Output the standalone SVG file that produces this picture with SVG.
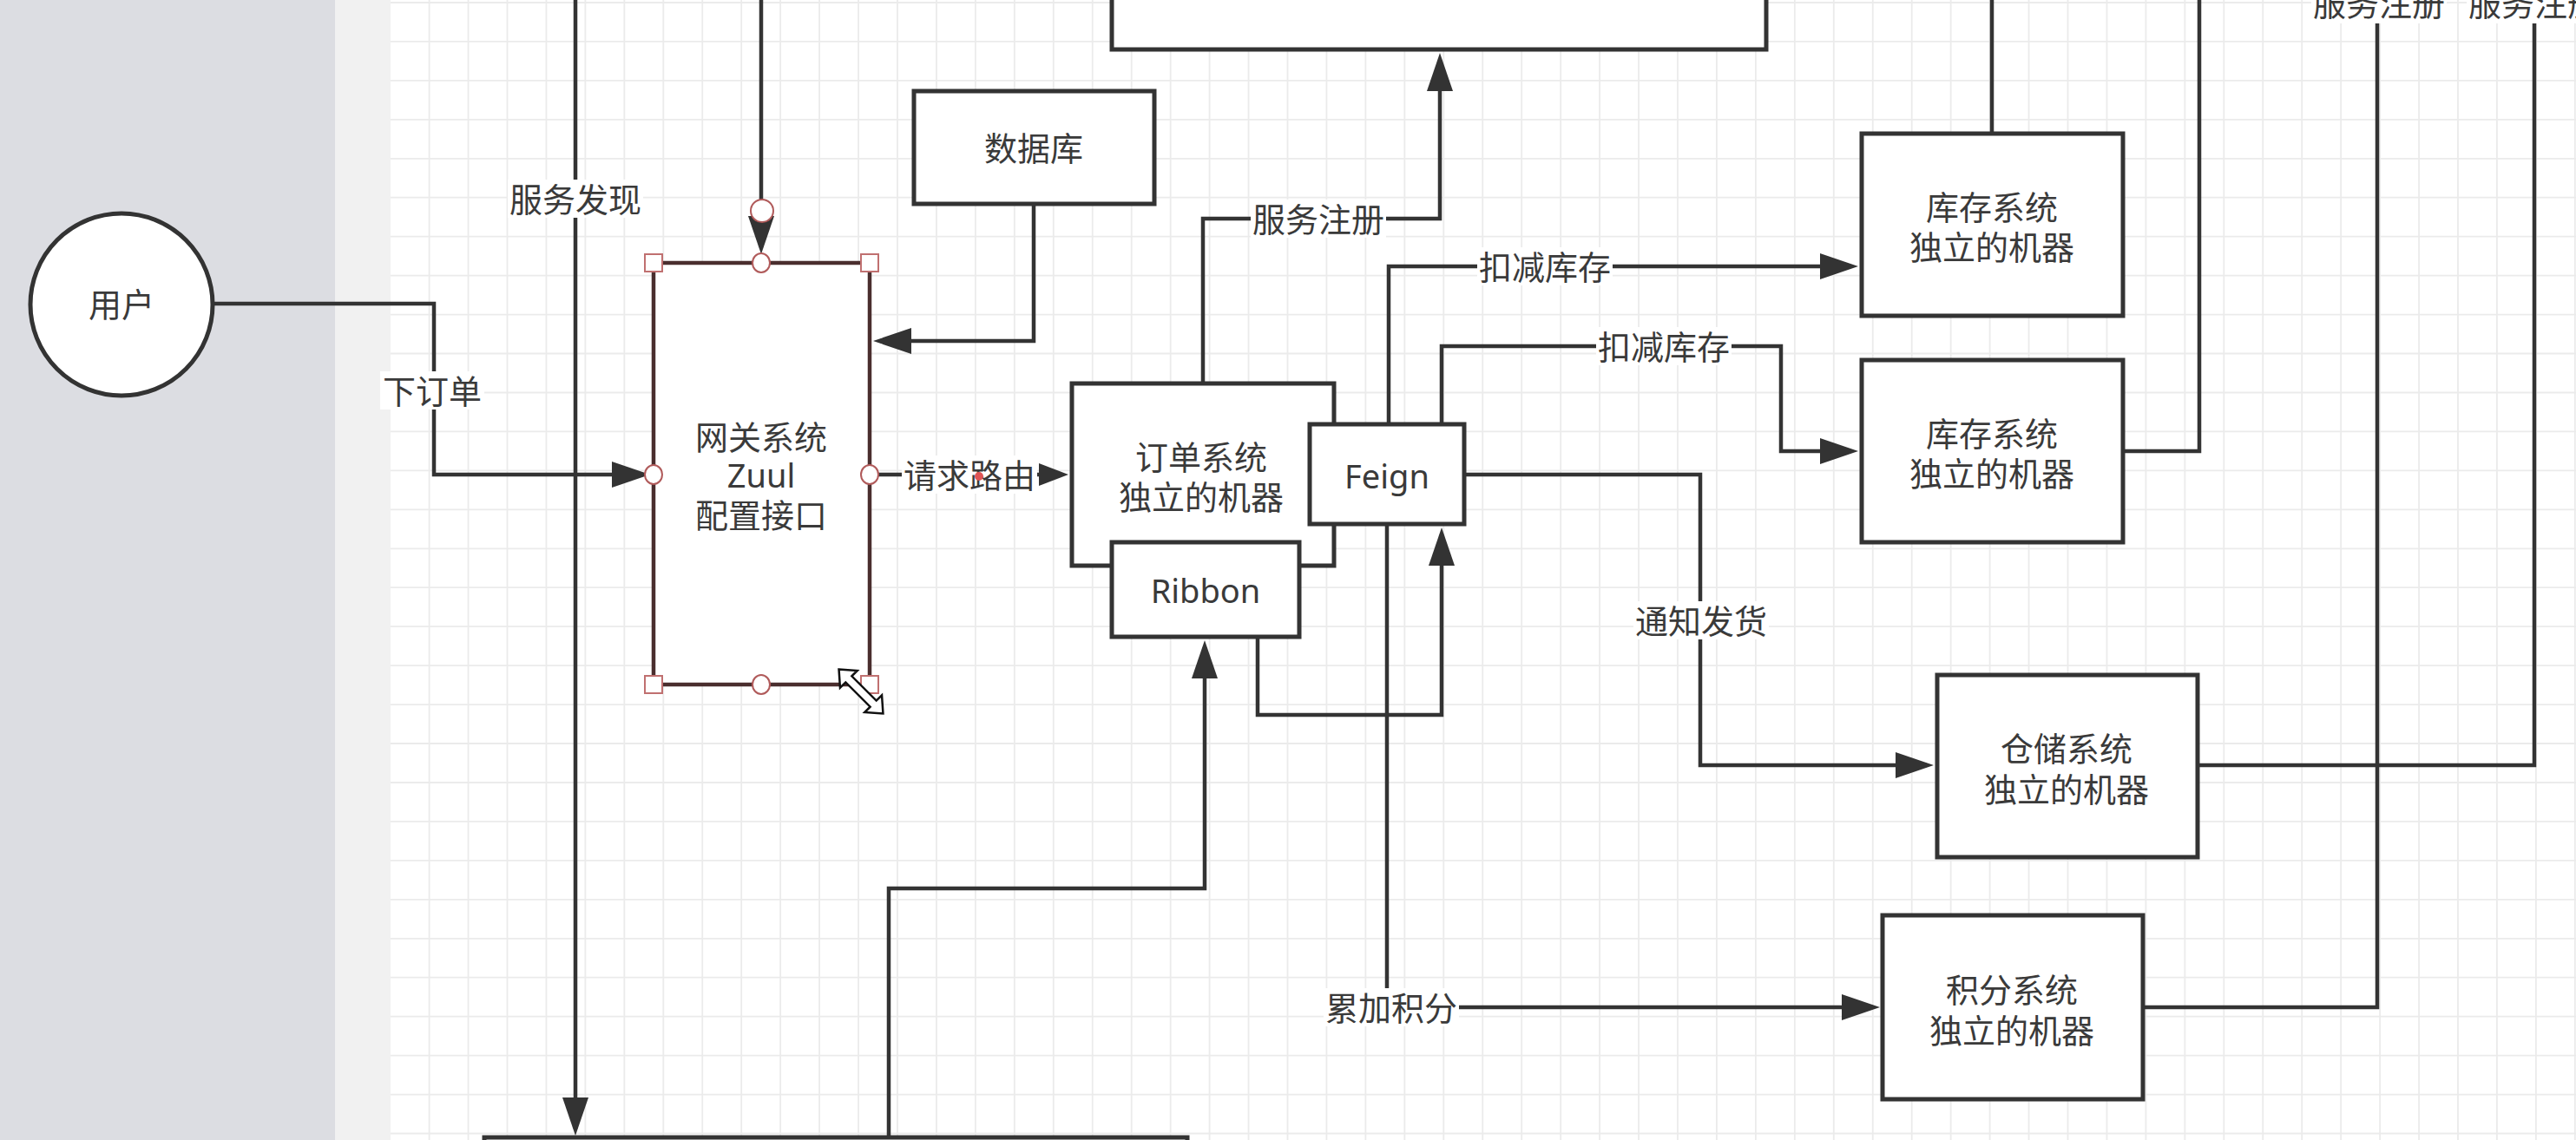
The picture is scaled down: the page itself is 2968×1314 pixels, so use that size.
<svg xmlns="http://www.w3.org/2000/svg" width="2968" height="1314" viewBox="0 0 2968 1314">
<style>
.box{fill:#ffffff;stroke:#333333;stroke-width:5}
.edge{fill:none;stroke:#333333;stroke-width:4.5}
.t{font-family:"Noto Sans","Noto Sans CJK SC",sans-serif;font-size:38px;fill:#3a3a3a;text-anchor:middle;dominant-baseline:central}
.lbg{fill:#ffffff}
.grid{fill:none;stroke:#ebebeb;stroke-width:1.8}
.hsq{fill:#ffffff;stroke:#c07070;stroke-width:2}
.hci{fill:#ffffff;stroke:#b05a5a;stroke-width:2}
</style>
<defs>
<marker id="arr" viewBox="0 0 44 30" refX="36" refY="15" markerWidth="44" markerHeight="30" markerUnits="userSpaceOnUse" orient="auto"><path d="M0,0 L44,15 L0,30 Z" fill="#333333"/></marker>
<marker id="arrs" viewBox="0 0 34 26" refX="26" refY="13" markerWidth="34" markerHeight="26" markerUnits="userSpaceOnUse" orient="auto"><path d="M0,0 L34,13 L0,26 Z" fill="#333333"/></marker>
</defs>
<g id="background">
<rect x="0" y="0" width="386" height="1314" fill="#dcdde2"/>
<rect x="386" y="0" width="64" height="1314" fill="#f1f1f1"/>
<rect x="450" y="0" width="2518" height="1314" fill="#ffffff"/>
</g>
<g id="grid">
<path class="grid" d="M494.6,0V1314M539.55,0V1314M584.5,0V1314M629.45,0V1314M674.4,0V1314M719.35,0V1314M764.3,0V1314M809.25,0V1314M854.2,0V1314M899.15,0V1314M944.1,0V1314M989.05,0V1314M1034,0V1314M1078.95,0V1314M1123.9,0V1314M1168.85,0V1314M1213.8,0V1314M1258.75,0V1314M1303.7,0V1314M1348.65,0V1314M1393.6,0V1314M1438.55,0V1314M1483.5,0V1314M1528.45,0V1314M1573.4,0V1314M1618.35,0V1314M1663.3,0V1314M1708.25,0V1314M1753.2,0V1314M1798.15,0V1314M1843.1,0V1314M1888.05,0V1314M1933,0V1314M1977.95,0V1314M2022.9,0V1314M2067.85,0V1314M2112.8,0V1314M2157.75,0V1314M2202.7,0V1314M2247.65,0V1314M2292.6,0V1314M2337.55,0V1314M2382.5,0V1314M2427.45,0V1314M2472.4,0V1314M2517.35,0V1314M2562.3,0V1314M2607.25,0V1314M2652.2,0V1314M2697.15,0V1314M2742.1,0V1314M2787.05,0V1314M2832,0V1314M2876.95,0V1314M2921.9,0V1314M2966.85,0V1314"/>
<path class="grid" d="M450,3H2968M450,47.9H2968M450,92.9H2968M450,137.8H2968M450,182.8H2968M450,227.7H2968M450,272.7H2968M450,317.6H2968M450,362.6H2968M450,407.5H2968M450,452.5H2968M450,497.4H2968M450,542.4H2968M450,587.3H2968M450,632.3H2968M450,677.2H2968M450,722.2H2968M450,767.1H2968M450,812.1H2968M450,857H2968M450,902H2968M450,946.9H2968M450,991.9H2968M450,1036.8H2968M450,1081.8H2968M450,1126.7H2968M450,1171.7H2968M450,1216.6H2968M450,1261.6H2968M450,1306.5H2968"/>
</g>
<g id="connectors">
<path id="e-order" class="edge" d="M245,350H500V547H741" marker-end="url(#arr)"/>
<path id="e-discovery" class="edge" d="M663,0V1301" marker-end="url(#arr)"/>
<path id="e-gw-top" class="edge" d="M877,0V285" marker-end="url(#arr)"/>
<path id="e-db" class="edge" d="M1191,235V393H1014" marker-end="url(#arr)"/>
<path id="e-route" class="edge" d="M1012,547H1223" marker-end="url(#arrs)"/>
<path id="e-register" class="edge" d="M1386,442V252H1659V69" marker-end="url(#arr)"/>
<path id="e-stock1" class="edge" d="M1600,489V307H2133" marker-end="url(#arr)"/>
<path id="e-stock2" class="edge" d="M1661,489V399H2052V520H2133" marker-end="url(#arr)"/>
<path id="e-ship" class="edge" d="M1687,547H1959V882H2220" marker-end="url(#arr)"/>
<path id="e-points" class="edge" d="M1598,604V1161H2158" marker-end="url(#arr)"/>
<path id="e-ribbon-feign" class="edge" d="M1449,734V824H1661V616" marker-end="url(#arr)"/>
<path id="e-bottom-ribbon" class="edge" d="M1024,1311V1024H1388V746" marker-end="url(#arr)"/>
<path id="e-stock1-up" class="edge" d="M2295,154V0"/>
<path id="e-stock2-up" class="edge" d="M2446,520H2534V0"/>
<path id="e-ware-up" class="edge" d="M2532,882H2920V0"/>
<path id="e-points-up" class="edge" d="M2469,1161H2739V0"/>
<g id="edge-labels">
<rect class="lbg" x="438" y="428" width="120" height="44"/><text class="t" x="498" y="450">下订单</text>
<rect class="lbg" x="585" y="207" width="156" height="44"/><text class="t" x="663" y="229">服务发现</text>
<rect class="lbg" x="1039" y="525" width="156" height="44"/><text class="t" x="1117" y="547">请求路由</text>
<rect class="lbg" x="1441" y="230" width="156" height="44"/><text class="t" x="1519" y="252">服务注册</text>
<rect class="lbg" x="1702" y="285" width="156" height="44"/><text class="t" x="1780" y="307">扣减库存</text>
<rect class="lbg" x="1839" y="377" width="156" height="44"/><text class="t" x="1917" y="399">扣减库存</text>
<rect class="lbg" x="1882" y="693" width="156" height="44"/><text class="t" x="1960" y="715">通知发货</text>
<rect class="lbg" x="1525" y="1139" width="156" height="44"/><text class="t" x="1603" y="1161">累加积分</text>
<rect class="lbg" x="2663" y="-19" width="156" height="46"/><text class="t" x="2741" y="3">服务注册</text>
<rect class="lbg" x="2842" y="-19" width="156" height="46"/><text class="t" x="2920" y="3">服务注册</text>
</g>
</g>
<g id="node-user"><ellipse class="box" cx="140" cy="351" rx="105" ry="105"/><text class="t" x="140" y="350">用户</text></g>
<g id="node-gateway"><rect x="753" y="303" width="249" height="486" fill="#ffffff" stroke="#4a2e2e" stroke-width="4.5"/><text class="t" x="877" y="503">网关系统</text><text class="t" x="877" y="547">Zuul</text><text class="t" x="877" y="593">配置接口</text></g>
<g id="node-db"><rect class="box" x="1053" y="105" width="277" height="130"/><text class="t" x="1191" y="170">数据库</text></g>
<g id="node-registry"><rect class="box" x="1281" y="-30" width="754" height="87"/></g>
<g id="node-order"><rect class="box" x="1235" y="442" width="302" height="210"/><text class="t" x="1384" y="526">订单系统</text><text class="t" x="1384" y="572">独立的机器</text></g>
<g id="node-feign"><rect class="box" x="1509" y="489" width="178" height="115"/><text class="t" x="1598" y="548">Feign</text></g>
<g id="node-ribbon"><rect class="box" x="1281" y="625" width="216" height="109"/><text class="t" x="1389" y="680">Ribbon</text></g>
<g id="node-stock1"><rect class="box" x="2145" y="154" width="301" height="210"/><text class="t" x="2295" y="238">库存系统</text><text class="t" x="2295" y="284">独立的机器</text></g>
<g id="node-stock2"><rect class="box" x="2145" y="415" width="301" height="210"/><text class="t" x="2295" y="499">库存系统</text><text class="t" x="2295" y="545">独立的机器</text></g>
<g id="node-warehouse"><rect class="box" x="2232" y="778" width="300" height="210"/><text class="t" x="2381" y="862">仓储系统</text><text class="t" x="2381" y="909">独立的机器</text></g>
<g id="node-points"><rect class="box" x="2169" y="1055" width="300" height="212"/><text class="t" x="2318" y="1140">积分系统</text><text class="t" x="2318" y="1187">独立的机器</text></g>
<g id="node-bottom"><rect class="box" x="558" y="1311" width="810" height="60"/></g>
<g id="selection">
<rect class="hsq" x="743" y="293" width="20" height="20"/>
<rect class="hsq" x="992" y="293" width="20" height="20"/>
<rect class="hsq" x="743" y="779" width="20" height="20"/>
<rect class="hsq" x="992" y="779" width="20" height="20"/>
<ellipse class="hci" cx="877" cy="303" rx="10" ry="11"/>
<ellipse class="hci" cx="877" cy="789" rx="10" ry="11"/>
<ellipse class="hci" cx="753" cy="547" rx="10" ry="11"/>
<ellipse class="hci" cx="1002" cy="547" rx="10" ry="11"/>
<ellipse class="hci" cx="878" cy="243" rx="13" ry="13"/>
<circle cx="1128" cy="549" r="5" fill="#e05555"/>
<polygon points="-36,0 -20,-14 -20,-5 20,-5 20,-14 36,0 20,14 20,5 -20,5 -20,14" transform="translate(992,797) rotate(45)" fill="#ffffff" stroke="#111111" stroke-width="2.5"/>
</g>
</svg>
